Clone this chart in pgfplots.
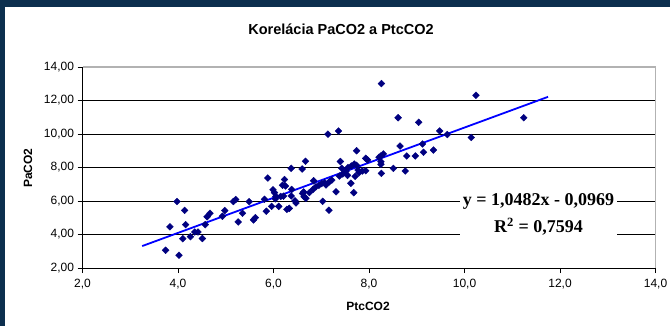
\documentclass[border=0pt]{standalone}
\usepackage{pgfplots}
\pgfplotsset{compat=1.18}
\usepackage{fontspec}
\setmainfont{Liberation Sans}
\newfontfamily\serifb{Liberation Serif}
\definecolor{bord}{RGB}{12,47,78}
\definecolor{navy}{RGB}{0,0,128}
\begin{document}
\begin{tikzpicture}[x=1bp,y=1bp]
\useasboundingbox (0,0) rectangle (670,326);
\fill[bord] (0,0) rectangle (670,326);
\fill[white] (5,0) rectangle (670,319);
\begin{axis}[at={(82.5bp,58bp)}, anchor=south west, scale only axis,
  width=573bp, height=201bp,
  xmin=2, xmax=14, ymin=2, ymax=14,
  xtick={2,4,...,14}, ytick={2,4,...,14},
  axis x line*=bottom, axis y line*=left,
  axis line style={black, line width=0.9bp, -},
  tick align=outside, major tick length=5bp,
  tick style={black, line width=0.7bp},
  ymajorgrids, grid style={black, line width=0.7bp},
  ticklabel style={font=\fontsize{12bp}{14bp}\selectfont},
  xticklabel style={yshift=-3bp, /pgf/number format/.cd, fixed, fixed zerofill, precision=1, use comma, assume math mode=true},
  yticklabel style={/pgf/number format/.cd, fixed, fixed zerofill, precision=2, use comma, assume math mode=true},
  clip=false]
\addplot[only marks, mark=square*, mark size=2.4bp, mark options={rotate=45, navy, fill=navy}] table {
x y
3.74 3.06
4.02 2.76
3.83 4.46
3.98 5.97
4.14 5.44
4.16 4.59
4.10 3.75
4.26 3.87
4.35 4.15
4.42 4.15
4.51 3.76
4.57 4.59
4.61 5.06
4.67 5.27
4.93 5.09
4.98 5.43
5.16 5.97
5.21 6.09
5.26 4.75
5.35 5.27
5.49 5.96
5.58 4.87
5.62 5.01
5.81 6.10
5.85 5.39
5.88 7.37
5.96 5.68
5.99 6.67
6.02 6.50
6.11 5.68
6.05 6.27
6.04 6.13
6.15 6.27
6.21 6.29
6.23 7.28
6.19 6.94
6.25 6.90
6.28 5.50
6.33 5.56
6.37 6.30
6.38 6.69
6.37 7.95
6.45 6.01
6.47 5.88
6.61 6.45
6.64 6.26
6.68 6.16
6.63 6.54
6.67 8.37
6.60 7.91
6.75 6.50
6.83 6.70
6.84 7.21
6.89 6.85
6.95 6.93
7.01 7.04
7.07 7.10
7.10 6.96
7.17 7.15
7.22 7.25
7.03 5.98
7.16 5.45
7.14 9.99
7.36 10.18
7.31 6.55
7.38 7.49
7.45 7.61
7.55 7.53
7.40 8.36
7.43 7.95
7.52 7.79
7.56 7.99
7.63 8.09
7.69 8.21
7.74 8.13
7.77 7.85
7.62 7.06
7.68 6.50
7.71 7.47
7.74 9.00
7.79 7.69
7.86 7.79
7.93 7.81
7.93 8.55
7.97 8.45
8.26 13.01
8.25 8.69
8.30 8.81
8.21 8.61
8.25 8.35
8.25 8.19
8.26 7.65
8.51 7.95
8.61 10.97
8.65 9.28
8.76 7.79
8.79 8.69
8.97 8.69
9.14 8.91
9.12 9.40
9.04 10.70
9.35 9.04
9.48 10.18
9.64 9.97
10.14 9.79
10.24 12.31
11.24 10.97
};
\addplot[blue, line width=1.8bp, no marks] coordinates {(3.25,3.3098) (11.75,12.2195)};
\end{axis}
\draw[gray!60, line width=1.2bp] (82.5,259) -- (655.5,259) -- (655.5,58);
\node[fill=white, inner sep=0, minimum width=157bp, minimum height=54bp] at (538.5,111) {};
\node[font=\serifb\fontsize{18bp}{20bp}\selectfont\bfseries] at (538.5,124.3) {y = 1,0482x - 0,0969};
\node[font=\serifb\fontsize{18bp}{20bp}\selectfont\bfseries] at (538.5,99.3) {R\textsuperscript{2} = 0,7594};
\node[font=\fontsize{14.5bp}{16bp}\selectfont\bfseries] at (341,297) {Korelácia PaCO2 a PtcCO2};
\node[font=\fontsize{12bp}{14bp}\selectfont\bfseries, rotate=90] at (28,158) {PaCO2};
\node[font=\fontsize{12bp}{14bp}\selectfont\bfseries] at (368,20) {PtcCO2};
\end{tikzpicture}
\end{document}
